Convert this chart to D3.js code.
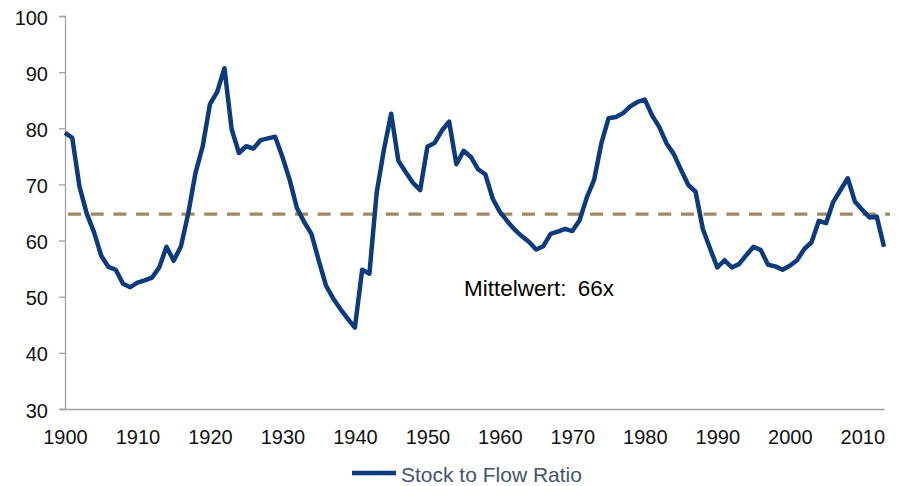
<!DOCTYPE html>
<html>
<head>
<meta charset="utf-8">
<script src="https://cdn.jsdelivr.net/npm/d3@7"></script>
<style>
  body { margin: 0; background: #fff; }
  text { font-family: "Liberation Sans", Arial, sans-serif; }
</style>
</head>
<body>
<div id="chart"></div>
<script>
// Stock to Flow Ratio, 1900-2013

var w = 901,
    h = 486;

var margin = {top:16, right:17, bottom:77, left:65};

var years = d3.range(1900, 2014);

var ratio = [
  79.2, 78.3, 69.6, 64.8, 61.5, 57.3, 55.3, 54.8, 52.3, 51.7,   // 1900s
  52.5, 52.9, 53.4, 55.2, 58.9, 56.4, 59.0, 64.8, 72.0, 76.8,   // 1910s
  84.3, 86.5, 90.7, 79.8, 75.6, 76.8, 76.4, 77.9, 78.2, 78.5,   // 1920s
  74.9, 70.8, 65.8, 63.3, 61.2, 56.5, 52.0, 49.7, 47.8, 46.1,   // 1930s
  44.5, 54.8, 54.1, 68.5, 76.2, 82.6, 74.2, 72.2, 70.3, 69.0,   // 1940s
  76.7, 77.4, 79.6, 81.2, 73.6, 76.0, 74.9, 72.7, 71.8, 67.5,   // 1950s
  65.1, 63.5, 62.0, 60.8, 59.8, 58.4, 59.0, 61.2, 61.6, 62.1,   // 1960s
  61.7, 63.6, 67.7, 70.8, 77.3, 81.8, 82.0, 82.7, 83.9, 84.7,   // 1970s
  85.1, 82.3, 80.2, 77.3, 75.4, 72.6, 69.9, 68.7, 62.1, 58.6,   // 1980s
  55.2, 56.5, 55.2, 55.8, 57.4, 58.9, 58.3, 55.7, 55.4, 54.8,   // 1990s
  55.5, 56.5, 58.5, 59.7, 63.5, 63.1, 66.9, 69.0, 71.1, 66.9,   // 2000s
  65.5, 64.1, 64.3, 58.9                                        // 2010s
];

var meanValue = 64.7;
var meanLabel = "Mittelwert: 66x";
var seriesName = "Stock to Flow Ratio";

var yTicks = [30, 40, 50, 60, 70, 80, 90, 100];
var xTicks = [1900, 1910, 1920, 1930, 1940, 1950, 1960, 1970, 1980, 1990, 2000, 2010];

var data = years.map(function(y, i){ return {year: y, value: ratio[i]}; });

var svg = d3.select("#chart")
            .append("svg")
            .attr("width", w)
            .attr("height", h);

var x = d3.scaleLinear()
          .domain([1900, 2013])
          .range([margin.left, w - margin.right]);

var y = d3.scaleLinear()
          .domain([30, 100])
          .range([h - margin.bottom, margin.top]);

// y axis
var yAxis = svg.append("g")
   .attr("transform", "translate(" + margin.left + ",0)")
   .call(d3.axisLeft(y).tickValues(yTicks).tickSize(6).tickPadding(11));

yAxis.select(".domain").attr("stroke", "#a0a0a0").attr("stroke-width", 1.3);
yAxis.selectAll(".tick line").attr("stroke", "#a0a0a0").attr("stroke-width", 1.3);
yAxis.selectAll(".tick text")
     .attr("font-size", "20px")
     .attr("fill", "#111")
     .attr("dy", "0.4em");

// x axis
var xAxis = svg.append("g")
   .attr("transform", "translate(0," + y(30) + ")")
   .call(d3.axisBottom(x).tickValues(xTicks).tickFormat(d3.format("d")).tickSize(0).tickPadding(21));

xAxis.select(".domain").attr("stroke", "#a0a0a0").attr("stroke-width", 1.3);
xAxis.selectAll(".tick text")
     .attr("font-size", "20px")
     .attr("fill", "#111");

// mean line
svg.append("line")
   .attr("x1", x(1900) + 3)
   .attr("x2", x(2013) + 6)
   .attr("y1", y(meanValue))
   .attr("y2", y(meanValue))
   .attr("stroke", "#a08863")
   .attr("stroke-width", 3.2)
   .attr("stroke-dasharray", "13,9.7");

// series line
var line = d3.line()
             .x(function(d){ return x(d.year); })
             .y(function(d){ return y(d.value); });

svg.append("path")
   .datum(data)
   .attr("d", line)
   .attr("fill", "none")
   .attr("stroke", "#0b3b7c")
   .attr("stroke-width", 4.5)
   .attr("stroke-linejoin", "round");

// label
svg.append("text")
   .attr("x", 464)
   .attr("y", 296)
   .attr("font-size", "22.5px")
   .attr("word-spacing", "5px")
   .attr("fill", "#000")
   .text(meanLabel);

// legend
var legend = svg.append("g").attr("transform", "translate(352,473)");

legend.append("line")
   .attr("x1", 0)
   .attr("x2", 44)
   .attr("stroke", "#0b3b7c")
   .attr("stroke-width", 4.5);

legend.append("text")
   .attr("x", 49)
   .attr("y", 9)
   .attr("font-size", "21px")
   .attr("fill", "#44546a")
   .text(seriesName);

</script>
</body>
</html>
